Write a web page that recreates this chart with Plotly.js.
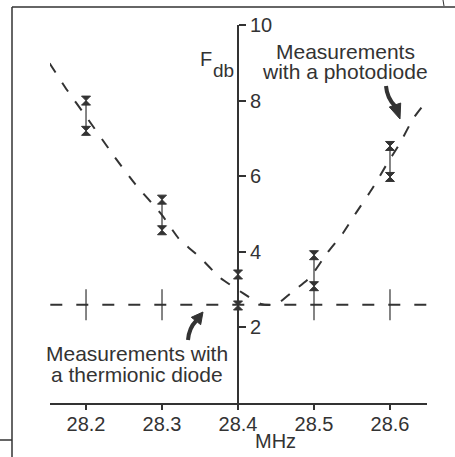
<!DOCTYPE html>
<html>
<head>
<meta charset="utf-8">
<script src="https://cdn.plot.ly/plotly-3.0.1.min.js"></script>
<style>html,body{margin:0;padding:0;background:#fff;}#chart{width:455px;height:457px;}</style>
</head>
<body>
<div id="chart"></div>
<script>
// ---- data ----
var tickVals = [28.2, 28.3, 28.4, 28.5, 28.6];
var tickLabels = ["28.2", "28.3", "28.4", "28.5", "28.6"];
var yTickVals = [2, 4, 6, 8, 10];
var yTickLabels = ["2", "4", "6", "8", "10"];

// photodiode measurements (upper and lower values at each frequency)
var photoX = [28.2, 28.3, 28.4, 28.5, 28.6];
var photoHigh = [8.0, 5.38, 3.4, 3.91, 6.8];
var photoLow = [7.2, 4.57, 2.58, 3.09, 5.98];

// photodiode fitted dashed curve
var curveX = [28.152, 28.175, 28.2, 28.238, 28.264, 28.3, 28.322, 28.35, 28.376, 28.407, 28.43, 28.45, 28.469, 28.495, 28.517, 28.538, 28.556, 28.577, 28.595, 28.613, 28.631, 28.649];
var curveY = [8.99, 8.28, 7.58, 6.5, 5.81, 4.97, 4.35, 3.85, 3.32, 2.9, 2.62, 2.6, 2.9, 3.33, 3.96, 4.49, 5.05, 5.68, 6.29, 6.87, 7.54, 8.01];

// thermionic diode measurements
var thermX = [28.2, 28.3, 28.4, 28.5, 28.6];
var thermY = [2.6, 2.6, 2.6, 2.6, 2.6];
var thermErr = [0.41, 0.41, 0.41, 0.41, 0.41];
var thermLineX = [28.153, 28.649];
var thermLineY = [2.6, 2.6];

// ---- layout helpers ----
var W = 455, H = 457, ML = 50, MR = 28, MT = 25, MB = 54;
var PW = W - ML - MR, PH = H - MT - MB;
var xRange = [28.1526, 28.6487];
function px(x) { return (x - ML) / PW; }
function py(y) { return (H - MB - y) / PH; }
function pt(x, y) { return px(x).toFixed(5) + "," + py(y).toFixed(5); }

var ink = "#333333";
var fontFam = "Liberation Sans, Arial, Helvetica, sans-serif";

// build photodiode error segments from arrays
var segX = [], segY = [], mkX = [], mkY = [];
for (var i = 0; i < photoX.length; i++) {
  segX.push(photoX[i], photoX[i], null);
  segY.push(photoLow[i], photoHigh[i], null);
  mkX.push(photoX[i], photoX[i]);
  mkY.push(photoLow[i], photoHigh[i]);
}

var traces = [
  {x: thermLineX, y: thermLineY, mode: "lines", line: {color: ink, width: 2, dash: "12px,14px"}, hoverinfo: "skip"},
  {x: thermX, y: thermY, mode: "markers", marker: {size: 1, color: ink},
   error_y: {type: "data", array: thermErr, visible: true, width: 0, thickness: 1.2, color: ink}},
  {x: curveX, y: curveY, mode: "lines", line: {color: ink, width: 2, dash: "11px,12px", shape: "spline", smoothing: 0.5}},
  {x: segX, y: segY, mode: "lines", line: {color: ink, width: 1.2}},
  {x: mkX, y: mkY, mode: "markers", marker: {symbol: "hourglass", size: 9, color: ink, line: {width: 1, color: ink}}}
];

var xPos0 = (28.4 - xRange[0]) / (xRange[1] - xRange[0]);

function arrowShapes(shaft, head) {
  return [
    {type: "path", xref: "paper", yref: "paper",
     path: "M" + pt(shaft[0][0], shaft[0][1]) + " Q" + pt(shaft[1][0], shaft[1][1]) + " " + pt(shaft[2][0], shaft[2][1]),
     line: {color: ink, width: 4}},
    {type: "path", xref: "paper", yref: "paper",
     path: "M" + pt(head[0][0], head[0][1]) + " L" + pt(head[1][0], head[1][1]) + " L" + pt(head[2][0], head[2][1]) + " Z",
     fillcolor: ink, line: {color: ink, width: 1}}
  ];
}

var shapes = [
  {type: "line", xref: "paper", yref: "paper", x0: px(12), x1: px(12), y0: py(7), y1: py(457), line: {color: ink, width: 1.5}},
  {type: "line", xref: "paper", yref: "paper", x0: px(12), x1: px(455), y0: py(7), y1: py(7), line: {color: ink, width: 1.5}},
  {type: "line", xref: "paper", yref: "paper", x0: px(0), x1: px(12), y0: py(440), y1: py(440), line: {color: ink, width: 1.5}},
  {type: "line", xref: "paper", yref: "paper", x0: px(443), x1: px(444), y0: py(0), y1: py(6), line: {color: ink, width: 1}}
];
shapes = shapes.concat(arrowShapes([[386, 86], [387, 98], [395, 106]], [[389.3, 107], [400.7, 103], [400, 119]]));
shapes = shapes.concat(arrowShapes([[188, 340], [189, 328], [196, 321]], [[191.3, 317.3], [200.7, 324.7], [203, 312]]));

var layout = {
  width: W, height: H,
  margin: {l: ML, r: MR, t: MT, b: MB, pad: 0},
  paper_bgcolor: "#fff", plot_bgcolor: "rgba(0,0,0,0)",
  showlegend: false,
  font: {family: fontFam, color: ink, size: 20},
  xaxis: {
    range: xRange, showgrid: false, zeroline: false,
    showline: true, linecolor: ink, linewidth: 1.5,
    ticks: "outside", ticklen: 5, tickwidth: 1.5, tickcolor: ink,
    ticklabelstandoff: -3,
    tickvals: tickVals, ticktext: tickLabels,
    tickfont: {size: 20, color: ink, family: fontFam}
  },
  yaxis: {
    range: [0, 10], showgrid: false, zeroline: false,
    anchor: "free", position: xPos0, side: "right",
    showline: true, linecolor: ink, linewidth: 2,
    ticks: "outside", ticklen: 7, tickwidth: 2, tickcolor: ink,
    tickvals: yTickVals, ticktext: yTickLabels,
    tickfont: {size: 20, color: ink, family: fontFam}
  },
  annotations: [
    {xref: "paper", yref: "paper", x: px(206), y: py(59), text: "F", showarrow: false, xanchor: "center", yanchor: "middle", font: {size: 20}},
    {xref: "paper", yref: "paper", x: px(223), y: py(70), text: "db", showarrow: false, xanchor: "center", yanchor: "middle", font: {size: 19}},
    {xref: "paper", yref: "paper", x: px(345), y: py(52), text: "Measurements", showarrow: false, xanchor: "center", yanchor: "middle", font: {size: 21}},
    {xref: "paper", yref: "paper", x: px(345), y: py(72), text: "with a photodiode", showarrow: false, xanchor: "center", yanchor: "middle", font: {size: 21}},
    {xref: "paper", yref: "paper", x: px(137), y: py(353), text: "Measurements with", showarrow: false, xanchor: "center", yanchor: "middle", font: {size: 21}},
    {xref: "paper", yref: "paper", x: px(137), y: py(374), text: "a thermionic diode", showarrow: false, xanchor: "center", yanchor: "middle", font: {size: 21}},
    {xref: "paper", yref: "paper", x: px(275), y: py(441), text: "MHz", showarrow: false, xanchor: "center", yanchor: "middle", font: {size: 20}}
  ],
  shapes: shapes
};

Plotly.newPlot("chart", traces, layout, {staticPlot: true, displayModeBar: false});
</script>
</body>
</html>
